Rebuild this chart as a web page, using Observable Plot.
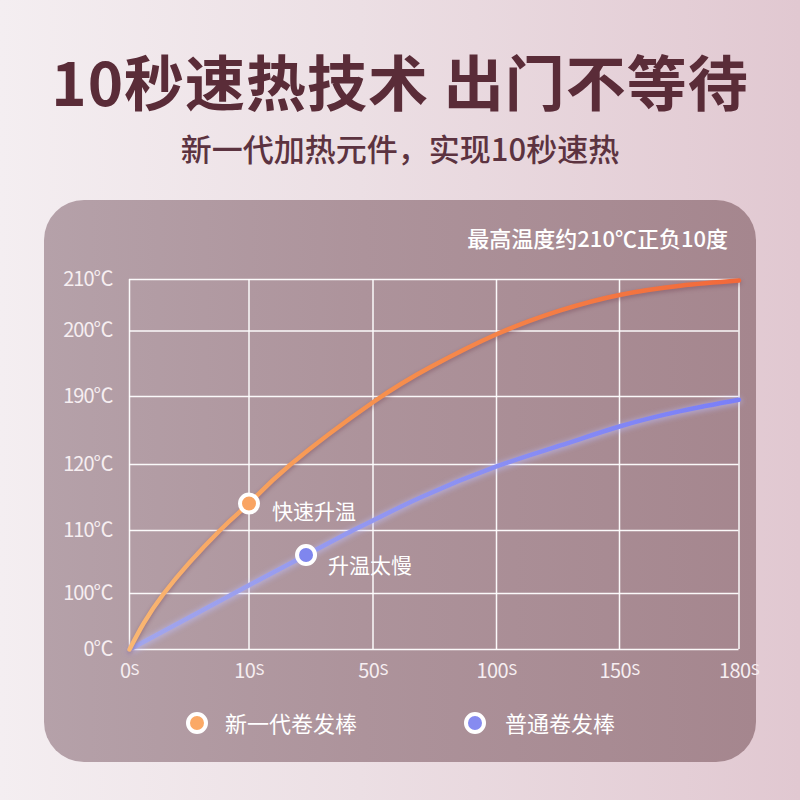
<!DOCTYPE html>
<html>
<head>
<meta charset="utf-8">
<script src="https://cdn.jsdelivr.net/npm/d3@7"></script>
<script src="https://cdn.jsdelivr.net/npm/@observablehq/plot@0.6"></script>
<style>
html,body{margin:0;padding:0;}
body{width:800px;height:800px;overflow:hidden;font-family:"Noto Sans CJK SC","Noto Sans",sans-serif;}
#page{position:relative;width:800px;height:800px;background:linear-gradient(90deg,#f4eef1 0%,#ecdfe4 45%,#e1c8d1 100%);}
.t{position:absolute;white-space:nowrap;}
#title{left:0;width:800px;top:50px;text-align:center;font-size:60px;line-height:60px;font-weight:700;color:#5a2c38;letter-spacing:1px;}
#subtitle{left:0;width:800px;top:132px;text-align:center;font-size:31px;line-height:31px;font-weight:500;color:#5c3340;}
#panel{position:absolute;left:44px;top:200px;width:712px;height:562px;border-radius:40px;background:linear-gradient(90deg,#b5a1a9 0%,#ad939b 45%,#a5868e 100%);}
#note{right:72px;top:226px;font-size:22px;line-height:22px;font-weight:500;color:#ffffff;}
#chart{position:absolute;left:0;top:200px;}
#chart text{font-family:"Noto Sans CJK SC","Noto Sans",sans-serif;}
#chart g[aria-label^="y-axis"] text{font-size:20px;fill:#f6eef1;letter-spacing:-1px;}
#chart g[aria-label^="x-axis"] text{font-size:20px;fill:#f6eef1;letter-spacing:-0.5px;}
.leg{position:absolute;top:711px;font-size:22px;line-height:22px;color:#fff;}
.dot{position:absolute;top:712px;width:14px;height:14px;border-radius:50%;border:4px solid #fff;}
</style>
</head>
<body>
<div id="page">
  <div id="title" class="t">10秒速热技术 出门不等待</div>
  <div id="subtitle" class="t">新一代加热元件，实现10秒速热</div>
  <div id="panel"></div>
  <div id="note" class="t">最高温度约210℃正负10度</div>
  <div class="dot" style="left:186px;background:#fba966;"></div>
  <div class="leg" style="left:225px;">新一代卷发棒</div>
  <div class="dot" style="left:464px;background:#868bf0;"></div>
  <div class="leg" style="left:505px;">普通卷发棒</div>
</div>
<script>
// tick values (seconds, °C)
const xTicks = [0, 10, 50, 100, 150, 180];
const yTicks = [0, 100, 110, 120, 190, 200, 210];

// new-generation curler curve (seconds, °C)
const newSec  = [0, 2.87, 7.56, 10, 23.4, 50, 73.3, 100, 126, 150, 165.3, 180];
const newTemp = [0, 100, 110, 114.1, 120, 184.1, 194.5, 199.5, 204, 207, 208.8, 209.8];

// ordinary curler curve (seconds, °C)
const oldSec  = [0, 10, 28.4, 43.4, 50, 69.2, 100, 126, 150, 165.3, 180];
const oldTemp = [0, 101.3, 106.1, 110, 111.5, 115, 119.7, 139.6, 159.1, 174.9, 186.6];

// highlighted points
const markSec = [10, 28.4];
const markTemp = [114.1, 106.1];
const markLabel = ["快速升温", "升温太慢"];
const markColor = ["#f9a463", "#7f86ee"];

const newData = newSec.map((s, i) => ({s, t: newTemp[i]}));
const oldData = oldSec.map((s, i) => ({s, t: oldTemp[i]}));
const marks = markSec.map((s, i) => ({s, t: markTemp[i], label: markLabel[i], color: markColor[i]}));

const chart = Plot.plot({
  width: 800,
  height: 500,
  marginLeft: 129,
  marginRight: 61.5,
  marginTop: 79,
  marginBottom: 51,
  style: {background: "transparent", overflow: "visible"},
  x: {type: "linear", domain: xTicks, range: [129, 248.5, 372.5, 496, 619, 738.5],
      ticks: xTicks, tickSize: 0, tickPadding: 14, tickFormat: d => String(d), label: null},
  y: {type: "linear", domain: yTicks, range: [449, 393, 330, 264, 196, 130.5, 79],
      ticks: yTicks, tickSize: 0, tickPadding: 17, tickFormat: d => d + "℃", label: null},
  marks: [
    Plot.ruleY(yTicks, {stroke: "#ffffff", strokeWidth: 1.5, strokeOpacity: 0.95}),
    Plot.ruleX(xTicks, {stroke: "#ffffff", strokeWidth: 1.5, strokeOpacity: 0.95}),
    Plot.line(oldData, {x: "s", y: "t", curve: "natural", stroke: "#7f84f5", strokeWidth: 4.5}),
    Plot.line(newData, {x: "s", y: "t", curve: "natural", stroke: "#f47a44", strokeWidth: 4.5}),
    Plot.dot(marks, {x: "s", y: "t", r: 9, fill: "color", stroke: "#ffffff", strokeWidth: 4}),
    Plot.text(marks.slice(0, 1), {x: "s", y: "t", text: "label", textAnchor: "start", dx: 23, dy: 9, fontSize: 21, fill: "#ffffff"}),
    Plot.text(marks.slice(1), {x: "s", y: "t", text: "label", textAnchor: "start", dx: 22, dy: 11.5, fontSize: 21, fill: "#ffffff"})
  ]
});

const svg = d3.select(chart);
const defs = svg.insert("defs", ":first-child");
const go = defs.append("linearGradient").attr("id", "gOrange").attr("x1", 0).attr("x2", 1).attr("y1", 0).attr("y2", 0);
go.append("stop").attr("offset", "0%").attr("stop-color", "#f9b773");
go.append("stop").attr("offset", "35%").attr("stop-color", "#f79450");
go.append("stop").attr("offset", "100%").attr("stop-color", "#f2683a");
const gb = defs.append("linearGradient").attr("id", "gBlue").attr("x1", 0).attr("x2", 1).attr("y1", 0).attr("y2", 0);
gb.append("stop").attr("offset", "0%").attr("stop-color", "#a2a6ec");
gb.append("stop").attr("offset", "100%").attr("stop-color", "#7a7ff8");

const lines = svg.selectAll('g[aria-label="line"]').nodes();
if (lines.length === 2) {
  d3.select(lines[0]).attr("stroke", "url(#gBlue)").selectAll("path").attr("stroke", "url(#gBlue)");
  d3.select(lines[0]).style("filter", "drop-shadow(0px 1px 3px rgba(190,190,255,0.85))");
  d3.select(lines[1]).attr("stroke", "url(#gOrange)").selectAll("path").attr("stroke", "url(#gOrange)");
  d3.select(lines[1]).style("filter", "drop-shadow(0px 2px 2px rgba(110,60,80,0.45))");
}

// superscript-style "S" unit on x tick labels
svg.selectAll('g[aria-label^="x-axis"] text').each(function() {
  d3.select(this).append("tspan").attr("font-size", "15px").attr("dy", "-0.2em").text("S");
});

chart.id = "chart";
document.getElementById("page").appendChild(chart);
</script>
</body>
</html>
